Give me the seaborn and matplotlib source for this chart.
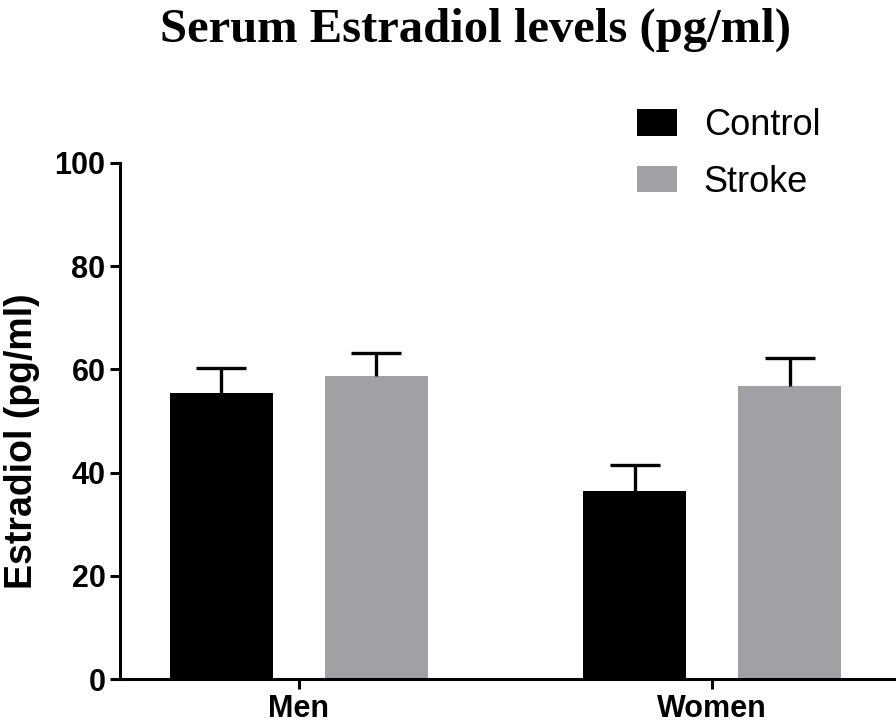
import matplotlib
matplotlib.use('Agg')
import matplotlib.pyplot as plt
import seaborn as sns
import pandas as pd
import numpy as np

sexes = ['Men', 'Men', 'Women', 'Women']
groups = ['Control', 'Stroke', 'Control', 'Stroke']
estradiol = [55.5, 58.8, 36.5, 56.7]
sem = [4.8, 4.3, 4.9, 5.6]
yticks = [0, 20, 40, 60, 80, 100]

df = pd.DataFrame({'Sex': sexes, 'Group': groups, 'Estradiol': estradiol, 'SEM': sem})

sns.set_style('ticks')
plt.rcParams['font.family'] = ['Liberation Sans', 'DejaVu Sans']
plt.rcParams['text.color'] = 'black'
plt.rcParams['xtick.color'] = 'black'
plt.rcParams['ytick.color'] = 'black'
plt.rcParams['axes.labelcolor'] = 'black'
plt.rcParams['axes.edgecolor'] = 'black'

fig = plt.figure(figsize=(8.96, 7.24), dpi=100)
ax = fig.add_axes([0.134, 0.062, 0.866, 0.713])

palette = {'Control': '#000000', 'Stroke': '#a1a0a5'}
sns.barplot(data=df, x='Sex', y='Estradiol', hue='Group', palette=palette,
            width=0.75, gap=1/3, errorbar=None, saturation=1, linewidth=0, ax=ax)

# one-sided (upper) error bars, lower cap hidden
for cont, grp in zip(ax.containers, ['Control', 'Stroke']):
    sub = df[df['Group'] == grp]
    xs = [b.get_x() + b.get_width() / 2 for b in cont]
    hs = [b.get_height() for b in cont]
    eb = ax.errorbar(xs, hs, yerr=[np.zeros(len(sub)), sub['SEM'].values], fmt='none',
                     ecolor='black', elinewidth=2.4, capsize=18, capthick=2.4, zorder=1)
    for cap in eb[1]:
        if np.allclose(cap.get_ydata(), hs):
            cap.set_visible(False)

ax.set_ylim(0, 100)
ax.set_yticks(yticks)
ax.set_xlim(-0.433, 1.445)
sns.despine(ax=ax)
for s in ['left', 'bottom']:
    ax.spines[s].set_linewidth(2.2)
ax.tick_params(axis='both', width=2.2, length=7, labelsize=22)
for lab in ax.get_xticklabels() + ax.get_yticklabels():
    lab.set_fontweight('bold')
ax.set_xlabel('')
ax.set_ylabel('Estradiol (pg/ml)', fontsize=27, fontweight='bold')
ax.yaxis.set_label_coords(-0.103, 0.46)

ax.legend(loc='upper left', bbox_to_anchor=(637 / 896, 1 - 108 / 724),
          bbox_transform=fig.transFigure, frameon=False, fontsize=26,
          borderpad=0, borderaxespad=0, handlelength=1.1, handleheight=0.75,
          handletextpad=0.75, labelspacing=0.6, title=None)

fig.text(475 / 896, 1 - 30 / 724, 'Serum Estradiol levels (pg/ml)', ha='center', va='center',
         fontsize=35, fontweight='bold', family=['Liberation Serif', 'DejaVu Serif'])

fig.savefig('out.png', dpi=100)
